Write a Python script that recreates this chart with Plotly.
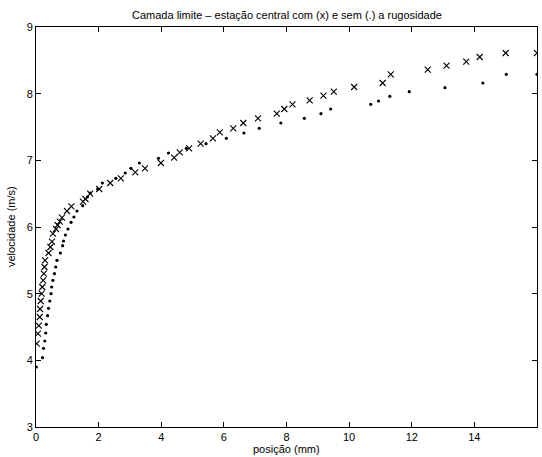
import plotly.graph_objects as go

# Series "com rugosidade" (x markers)
pos_com = [0.02, 0.06, 0.09, 0.12, 0.13, 0.15, 0.18, 0.20, 0.23, 0.25, 0.27, 0.29,
           0.40, 0.46, 0.51, 0.54, 0.64, 0.69, 0.76, 0.83, 0.99, 1.13, 1.50, 1.58,
           1.73, 2.02, 2.37, 2.71, 3.17, 3.48, 3.99, 4.41, 4.59, 4.89, 5.26, 5.65,
           5.87, 6.30, 6.62, 7.09, 7.69, 7.93, 8.19, 8.74, 9.18, 9.51, 10.16, 11.07,
           11.33, 12.51, 13.11, 13.74, 14.17, 15.0, 16.0]
vel_com = [4.25, 4.40, 4.52, 4.65, 4.77, 4.89, 5.00, 5.10, 5.20, 5.30, 5.40, 5.50,
           5.61, 5.70, 5.78, 5.90, 5.97, 6.03, 6.08, 6.14, 6.24, 6.31, 6.38, 6.42,
           6.50, 6.57, 6.66, 6.73, 6.82, 6.88, 6.96, 7.04, 7.12, 7.18, 7.25, 7.33,
           7.42, 7.48, 7.56, 7.63, 7.70, 7.77, 7.84, 7.90, 7.97, 8.03, 8.10, 8.16,
           8.29, 8.36, 8.42, 8.48, 8.55, 8.61, 8.61]

# Series "sem rugosidade" (dots)
pos_sem = [0.01, 0.21, 0.24, 0.28, 0.31, 0.33, 0.37, 0.40, 0.44, 0.48, 0.50, 0.54,
           0.59, 0.63, 0.67, 0.78, 0.85, 0.88, 0.94, 1.02, 1.12, 1.21, 1.31, 1.49,
           1.64, 1.73, 1.97, 2.12, 2.55, 2.85, 3.03, 3.30, 3.91, 4.23, 4.80, 5.43,
           6.08, 6.64, 7.13, 7.82, 8.57, 9.10, 9.41, 10.69, 10.94, 11.30, 11.92,
           13.06, 14.27, 15.02, 16.0]
vel_sem = [3.90, 4.04, 4.18, 4.29, 4.41, 4.54, 4.67, 4.78, 4.89, 5.00, 5.10, 5.20,
           5.30, 5.40, 5.50, 5.61, 5.72, 5.79, 5.88, 5.97, 6.07, 6.15, 6.24, 6.32,
           6.45, 6.51, 6.57, 6.66, 6.73, 6.81, 6.88, 6.96, 7.03, 7.11, 7.18, 7.25,
           7.33, 7.41, 7.48, 7.56, 7.63, 7.70, 7.77, 7.84, 7.89, 7.96, 8.03,
           8.09, 8.16, 8.29, 8.29]

x_ticks = [0, 2, 4, 6, 8, 10, 12, 14, 16]
y_ticks = [3, 4, 5, 6, 7, 8, 9]

FONT = "Liberation Sans, Arial, Helvetica, sans-serif"

fig = go.Figure()
fig.add_trace(go.Scatter(
    x=pos_com, y=vel_com, mode="markers",
    marker=dict(symbol="x-thin", size=6, color="black",
                line=dict(color="black", width=1.1)),
    showlegend=False))
fig.add_trace(go.Scatter(
    x=pos_sem, y=vel_sem, mode="markers",
    marker=dict(symbol="circle", size=3.2, color="black", line=dict(width=0)),
    showlegend=False))

axis_common = dict(
    showgrid=False, zeroline=False, showline=True, linecolor="black", linewidth=1,
    mirror="allticks", ticks="inside", ticklen=5, tickcolor="black", tickwidth=1,
    tickfont=dict(family=FONT, size=11, color="black"),
)
fig.update_xaxes(range=[0, 16], tickvals=x_ticks, ticktext=[str(v) for v in x_ticks],
                 **axis_common)
fig.update_yaxes(range=[3, 9], tickvals=y_ticks, ticktext=[str(v) for v in y_ticks],
                 **axis_common)

fig.update_layout(
    width=542, height=457,
    margin=dict(l=36, r=5, t=27, b=30, autoexpand=False),
    paper_bgcolor="white", plot_bgcolor="white",
    font=dict(family=FONT, size=11, color="black"),
    annotations=[
        dict(text="Camada limite – estação central com (x) e sem (.) a rugosidade",
             x=0.5, y=1, xref="paper", yref="paper", xanchor="center", yanchor="bottom",
             yshift=4, showarrow=False, font=dict(family=FONT, size=11, color="black")),
        dict(text="posição (mm)", x=0.5, y=0, xref="paper", yref="paper",
             xanchor="center", yanchor="top", yshift=-14, showarrow=False,
             font=dict(family=FONT, size=11, color="black")),
        dict(text="velocidade (m/s)", x=0, y=0.5, xref="paper", yref="paper",
             xanchor="right", yanchor="middle", xshift=-17, textangle=-90,
             showarrow=False, font=dict(family=FONT, size=11, color="black")),
    ],
)

fig.write_html("out.html")
